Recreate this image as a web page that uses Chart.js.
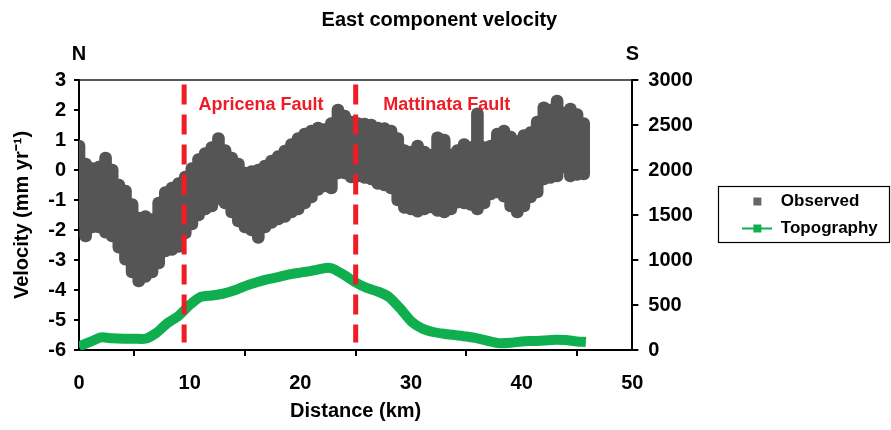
<!DOCTYPE html>
<html>
<head>
<meta charset="utf-8">
<script src="https://cdn.jsdelivr.net/npm/chart.js@4.4.0/dist/chart.umd.min.js"></script>
<style>
  html, body { margin: 0; padding: 0; background: #fff; }
</style>
</head>
<body>
<canvas id="eastChart" width="891" height="430"></canvas>
<script>
// Observed velocity: range (low..high) at each distance, mm/yr
const distObs = [0, 0.6, 1.2, 1.8, 2.4, 3.0, 3.6, 4.2, 4.8, 5.4, 6.0, 6.6, 7.2, 7.8, 8.4, 9.0, 9.6, 10.2, 10.8, 11.4,
  12.0, 12.6, 13.2, 13.8, 14.4, 15.0, 15.6, 16.2, 16.8, 17.4, 18.0, 18.6, 19.2, 19.8, 20.4, 21.0, 21.6, 22.2, 22.8, 23.4,
  24.0, 24.6, 25.2, 25.8, 26.4, 27.0, 27.6, 28.2, 28.8, 29.4, 30.0, 30.6, 31.2, 31.8, 32.4, 33.0, 33.6, 34.2, 34.8, 35.4,
  36.0, 36.6, 37.2, 37.8, 38.4, 39.0, 39.6, 40.2, 40.8, 41.4, 42.0, 42.6, 43.2, 43.8, 44.4, 45.0, 45.6];
const obsHigh = [1.0, 0.4, 0.25, 0.3, 0.6, 0.2, -0.3, -0.5, -0.95, -1.4, -1.35, -1.45, -0.9, -0.55, -0.4, -0.25, 0.0, 0.25, 0.55, 0.75,
  0.95, 1.25, 0.85, 0.6, 0.4, 0.1, 0.15, 0.2, 0.33, 0.5, 0.65, 0.83, 1.05, 1.25, 1.4, 1.5, 1.6, 1.55, 1.75, 2.2,
  2.0, 1.8, 1.75, 1.73, 1.7, 1.6, 1.58, 1.5, 1.25, 0.85, 0.8, 1.0, 0.8, 0.7, 1.27, 1.2, 0.7, 0.85, 1.05, 0.95,
  2.07, 0.95, 1.0, 1.4, 1.5, 1.3, 1.15, 1.35, 1.45, 1.8, 2.27, 2.2, 2.5, 2.1, 2.23, 2.05, 1.75];
const obsLow = [-1.9, -2.4, -2.1, -2.1, -2.27, -2.4, -2.77, -3.17, -3.6, -3.9, -3.75, -3.6, -3.3, -2.9, -2.85, -2.75, -2.3, -2.0, -1.7, -1.5,
  -1.4, -1.15, -1.3, -1.6, -1.9, -2.1, -2.2, -2.45, -2.1, -1.95, -1.83, -1.75, -1.6, -1.5, -1.3, -1.1, -0.85, -0.73, -0.8, -0.3,
  -0.3, -0.43, -0.4, -0.45, -0.5, -0.65, -0.7, -0.8, -1.2, -1.45, -1.5, -1.57, -1.5, -1.43, -1.55, -1.6, -1.5, -1.27, -1.3, -1.35,
  -1.5, -1.3, -1.0, -0.93, -1.07, -1.4, -1.6, -1.4, -1.1, -0.93, -0.5, -0.45, -0.4, -0.1, -0.4, -0.35, -0.33];

// Topography (m), right axis
const distTopo = [0, 1, 2, 3, 4, 5, 6, 7, 8, 9, 10, 11, 12, 13, 14, 15, 16, 17, 18, 19, 20, 21, 22, 22.5, 23,
  24, 25, 26, 27, 28, 29, 30, 31, 32, 33, 34, 35, 36, 37, 38, 39, 40, 41, 42, 43, 44, 45, 45.8];
const topoHeight = [40, 90, 140, 130, 125, 125, 125, 190, 300, 380, 500, 590, 605, 625, 660, 710, 750, 785, 810, 840,
  860, 880, 905, 915, 900, 830, 750, 690, 650, 590, 465, 320, 240, 200, 180, 165, 150, 130, 100, 75,
  80, 95, 100, 105, 115, 110, 95, 90];

// Faults
const faultNames = ['Apricena Fault', 'Mattinata Fault'];
const faultDist = [9.5, 25];
const faultLabelAt = [10.8, 27.5];

const GRAY = '#555555';
const GREEN = '#0fae4f';
const RED = '#ee1c25';
const FONT = '"Liberation Sans", Arial, sans-serif';
const AREA_RIGHT = 632;

function legendIcon(withLine, color) {
  const c = document.createElement('canvas');
  c.width = 30; c.height = 14;
  const g = c.getContext('2d');
  if (withLine) {
    g.strokeStyle = color; g.lineWidth = 2;
    g.beginPath(); g.moveTo(0, 7); g.lineTo(30, 7); g.stroke();
  }
  g.fillStyle = color;
  g.fillRect(11, 3, 8, 8);
  return c;
}
const obsIcon = legendIcon(false, '#666666');
const topoIcon = legendIcon(true, GREEN);

const faultSets = faultDist.map(d => ({
  type: 'line',
  data: [{x: d, y: 2.85}, {x: d, y: -5.75}],
  borderColor: RED,
  borderWidth: 5,
  borderDash: [20, 10],
  pointRadius: 0,
  yAxisID: 'y',
  order: 1
}));

const decor = {
  id: 'decor',
  afterDraw(chart) {
    const {ctx, chartArea: a, scales: {x, y}} = chart;
    ctx.save();
    // top frame
    ctx.strokeStyle = '#222';
    ctx.lineWidth = 1.5;
    ctx.beginPath();
    ctx.moveTo(a.left, a.top);
    ctx.lineTo(a.right, a.top);
    ctx.stroke();

    // fault names
    ctx.fillStyle = RED;
    ctx.font = 'bold 18px ' + FONT;
    ctx.textBaseline = 'middle';
    ctx.textAlign = 'left';
    faultNames.forEach((n, i) => {
      ctx.fillText(n, x.getPixelForValue(faultLabelAt[i]), y.getPixelForValue(2.17));
    });

    // N / S
    ctx.fillStyle = '#000';
    ctx.font = 'bold 20px ' + FONT;
    ctx.textAlign = 'center';
    ctx.fillText('N', x.getPixelForValue(0), a.top - 26);
    ctx.fillText('S', x.getPixelForValue(50), a.top - 26);

    // legend frame
    const hb = chart.legend.legendHitBoxes;
    if (hb && hb.length) {
      const top = hb[0].top - 7;
      const last = hb[hb.length - 1];
      const bottom = last.top + last.height + 5;
      ctx.strokeStyle = '#000';
      ctx.lineWidth = 1.2;
      ctx.strokeRect(718.5, Math.round(top) + 0.5, chart.width - 720, Math.round(bottom - top));
    }
    ctx.restore();
  }
};

const chart = new Chart(document.getElementById('eastChart'), {
  type: 'line',
  data: {
    datasets: [
      {
        type: 'bar',
        label: 'Observed',
        data: distObs.map((d, i) => ({x: d, y: [obsLow[i], obsHigh[i]]})),
        backgroundColor: GRAY,
        barThickness: 12,
        borderRadius: 6,
        borderSkipped: false,
        yAxisID: 'y',
        order: 3
      },
      {
        label: 'Topography',
        data: distTopo.map((d, i) => ({x: d, y: topoHeight[i]})),
        borderColor: GREEN,
        borderWidth: 10,
        pointRadius: 0,
        tension: 0.2,
        yAxisID: 'y2',
        order: 2
      },
      ...faultSets
    ]
  },
  options: {
    responsive: false,
    animation: false,
    layout: { padding: { top: 6, left: 0, right: 10, bottom: 0 } },
    plugins: {
      title: {
        display: true,
        text: 'East component velocity',
        color: '#000',
        font: { family: FONT, size: 20, weight: 'bold' },
        padding: { top: 2, bottom: 48 }
      },
      legend: {
        position: 'right',
        fullSize: false,
        labels: {
          usePointStyle: true,
          pointStyleWidth: 30,
          padding: 10,
          color: '#000',
          font: { family: FONT, size: 17, weight: 'bold' },
          generateLabels: () => [
            { text: 'Observed', pointStyle: obsIcon, fillStyle: '#666', strokeStyle: '#666', lineWidth: 0, hidden: false, datasetIndex: 0, fontColor: '#000' },
            { text: 'Topography', pointStyle: topoIcon, fillStyle: GREEN, strokeStyle: GREEN, lineWidth: 0, hidden: false, datasetIndex: 1, fontColor: '#000' }
          ]
        }
      },
      tooltip: { enabled: false }
    },
    scales: {
      x: {
        type: 'linear',
        min: 0, max: 50,
        offset: false,
        afterFit: s => { s.height = 80; },
        ticks: { stepSize: 10, color: '#000', padding: 15, font: { family: FONT, size: 20, weight: 'bold' } },
        grid: { drawOnChartArea: false, color: '#000', lineWidth: 2, tickLength: 6 },
        border: { color: '#000', width: 2 },
        title: { display: true, text: 'Distance (km)', color: '#000', padding: { top: 0, bottom: 7 }, font: { family: FONT, size: 20, weight: 'bold' } }
      },
      y: {
        position: 'left',
        min: -6, max: 3,
        afterFit: s => { s.width = 79; },
        ticks: { stepSize: 1, color: '#000', padding: 8, font: { family: FONT, size: 20, weight: 'bold' } },
        grid: { drawOnChartArea: false, color: '#000', lineWidth: 2, tickLength: 5 },
        border: { color: '#000', width: 2 },
        title: { display: true, text: 'Velocity (mm yr\u207B\u00B9)', color: '#000', padding: { top: 10, bottom: 0 }, font: { family: FONT, size: 20, weight: 'bold' } }
      },
      y2: {
        position: 'right',
        min: 0, max: 3000,
        afterFit: s => { s.width = 100; },
        ticks: { stepSize: 500, color: '#000', padding: 10, callback: v => String(v), font: { family: FONT, size: 20, weight: 'bold' } },
        grid: { drawOnChartArea: false, color: '#000', lineWidth: 2, tickLength: 6 },
        border: { color: '#000', width: 2 }
      }
    }
  },
  plugins: [decor]
});

// pin the plot's right edge where the reference has it
const shift = chart.chartArea.right - AREA_RIGHT;
if (Math.abs(shift) > 0.5) {
  chart.options.layout.padding.right += shift;
  chart.update();
}
</script>
</body>
</html>
